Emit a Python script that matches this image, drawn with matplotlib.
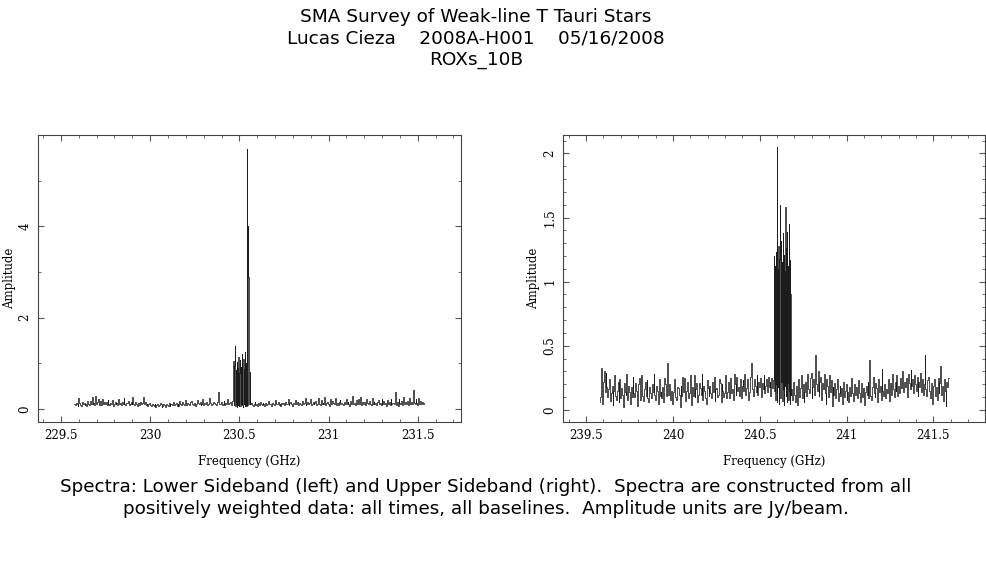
import numpy as np
import matplotlib
matplotlib.use("Agg")
import matplotlib.pyplot as plt
from matplotlib.ticker import MultipleLocator

# ---------------- data (amplitudes in units of 0.01 Jy/beam) ----------------
# Lower sideband
lsb_freq_edges = [229.573, 230.466, 230.560, 231.538]   # GHz: start, line start, line end, stop
lsb_pre = [11,8,14,10,7,24,13,9,6,15, 10,13,8,12,7,17,11,9,18,12,
           26,10,14,9,28,12,15,21,9,17, 13,8,22,11,16,10,15,8,19,12,
           9,14,11,20,7,12,16,10,14,8, 21,11,13,9,16,12,24,10,8,14,
           13,18,9,11,15,10,27,12,9,15, 11,7,14,12,9,16,10,13,27,11,
           15,9,12,7,10,13,8,6,11,9, 7,12,5,9,11,6,8,13,10,5,
           7,12,9,4,11,8,6,14,7,10, 12,9,16,8,11,13,7,10,6,18,
           11,9,15,12,8,10,20,9,13,11, 8,15,17,10,12,9,14,7,11,19,
           13,10,16,8,12,21,9,14,11,15, 8,12,10,24,13,9,11,15,14,10,
           12,9,16,37,11,10,15,8,12,18, 9,14,11,22,10,13,16,9,12,17]
lsb_line = [105,8,95,12,138,6,85,10,102,5, 90,9,115,7,80,11,108,6,92,12,
            120,8,98,5,110,10,88,7,125,9, 100,6,570,8,10,400,290,115,10,82]
lsb_post = [10,14,8,6,12,15,9,11,7,13, 9,16,10,8,14,11,7,13,9,12,
            17,10,12,6,9,14,11,8,19,10, 12,15,9,11,7,14,10,13,8,16,
            12,10,22,9,13,16,11,7,14,12, 20,10,13,15,9,14,12,8,18,11,
            13,24,9,12,15,11,14,21,8,12, 16,10,13,17,9,12,25,11,8,19,
            12,14,10,27,9,13,16,11,7,22, 12,10,18,14,11,24,9,13,8,15,
            20,11,14,12,9,15,10,23,12,16, 11,7,17,12,28,10,14,9,19,13,
            10,21,12,26,9,15,11,16,13,8, 21,14,10,18,12,9,25,11,15,10,
            13,8,16,20,11,14,9,23,12,18, 10,14,7,19,12,16,9,22,11,14,
            13,10,37,8,15,6,22,13,11,17, 9,26,12,15,10,18,13,9,24,12,
            16,11,42,13,10,21,14,8,24,12, 17,11,15,10,14]

# Upper sideband
usb_freq_edges = [239.577, 240.582, 240.682, 241.590]
usb_pre = [6,10,33,5,22,30,14,29,18,10, 16,24,7,13,19,4,15,27,11,8,
           15,22,6,24,9,17,12,2,21,14, 12,28,8,19,14,5,18,10,26,13,
           10,21,15,3,20,25,13,8,27,11, 7,16,22,11,23,9,6,18,13,9,
           20,14,28,12,8,19,15,5,24,11, 14,9,18,6,25,20,11,16,37,12,
           20,8,15,5,14,22,24,10,8,18, 17,12,2,19,11,26,14,25,7,15,
           22,16,9,13,27,4,18,11,27,10, 16,21,6,12,21,17,12,28,8,19,
           15,9,5,23,17,11,19,13,9,22, 14,26,7,16,17,10,12,24,21,6,
           20,15,10,13,27,9,14,22,18,9, 25,13,16,8,28,20,12,26,15,18,
           11,24,9,19,23,15,28,12,17,24, 8,14,21,26,37,16,11,24,19,14,
           27,12,22,18,25,10,21,16,27,13, 19,24,14,26,18,22,11,25,17,23]
usb_line = [120,15,112,8,123,20,205,6,110,18, 128,5,118,14,160,9,132,22,115,7,
            138,16,121,4,108,19,158,11,126,6, 139,21,112,8,145,15,117,5,90,12]
usb_post = [16,8,22,12,6,19,14,4,24,10, 17,27,9,20,6,14,22,11,28,16,
            13,25,29,9,18,24,12,43,20,15, 30,11,22,26,8,21,16,28,13,5,
            24,19,10,27,14,23,3,18,12,21, 9,16,24,7,13,19,11,17,5,22,
            10,15,20,8,14,6,18,11,25,13, 7,16,20,12,18,9,23,13,6,15,
            21,10,17,4,14,19,12,22,9,39, 11,8,18,26,13,10,21,17,6,24,
            14,19,8,32,15,11,20,9,16,13, 24,18,7,21,12,28,16,10,22,15,
            27,11,19,13,25,17,30,14,20,22, 18,25,10,28,21,16,31,19,24,13,
            27,20,15,26,11,22,18,29,14,24, 12,20,43,16,11,23,26,15,9,21,
            14,5,19,24,11,18,8,25,13,21, 34,12,19,7,24,15,3,22,18,25]

title_lines = ["SMA Survey of Weak-line T Tauri Stars",
               "Lucas Cieza    2008A-H001    05/16/2008",
               "ROXs_10B"]
caption_lines = ["Spectra: Lower Sideband (left) and Upper Sideband (right).  Spectra are constructed from all",
                 "positively weighted data: all times, all baselines.  Amplitude units are Jy/beam."]


def build(edges, pre, line, post):
    segs = [(edges[0], edges[1], pre), (edges[1], edges[2], line), (edges[2], edges[3], post)]
    xs, ys = [], []
    for a, b, v in segs:
        n = len(v)
        xs.append(a + (np.arange(n) + 0.5) * (b - a) / n)
        ys.append(np.asarray(v, float) / 100.0)
    return np.concatenate(xs), np.concatenate(ys)


fig = plt.figure(figsize=(9.87, 5.67), dpi=100)
serif = "DejaVu Serif"

panels = [
    dict(pos=[0.0388, 0.2552, 0.4280, 0.5067], data=build(lsb_freq_edges, lsb_pre, lsb_line, lsb_post),
         xlim=(229.373, 231.741), ylim=(-0.29, 6.0), xmin=0.1, ymin=1,
         xticks=[229.5, 230, 230.5, 231, 231.5], xlabels=["229.5", "230", "230.5", "231", "231.5"],
         yticks=[0, 2, 4], ylabels=["0", "2", "4"]),
    dict(pos=[0.5707, 0.2552, 0.4273, 0.5067], data=build(usb_freq_edges, usb_pre, usb_line, usb_post),
         xlim=(239.369, 241.797), ylim=(-0.096, 2.143), xmin=0.1, ymin=0.1,
         xticks=[239.5, 240, 240.5, 241, 241.5], xlabels=["239.5", "240", "240.5", "241", "241.5"],
         yticks=[0, 0.5, 1, 1.5, 2], ylabels=["0", "0.5", "1", "1.5", "2"]),
]

for p in panels:
    ax = fig.add_axes(p["pos"])
    x, y = p["data"]
    ax.plot(x, y, color="#1c1c1c", lw=0.55, drawstyle="steps-mid")
    ax.set_xlim(*p["xlim"])
    ax.set_ylim(*p["ylim"])
    ax.set_xticks(p["xticks"])
    ax.set_xticklabels(p["xlabels"], fontfamily=serif, fontsize=8.5)
    ax.set_yticks(p["yticks"])
    ax.set_yticklabels(p["ylabels"], fontfamily=serif, fontsize=8.5, rotation=90, va="center")
    ax.xaxis.set_minor_locator(MultipleLocator(p["xmin"]))
    ax.yaxis.set_minor_locator(MultipleLocator(p["ymin"]))
    ax.tick_params(which="both", direction="in", top=True, right=True, color="#555555")
    ax.tick_params(which="major", length=4.5, width=0.8, pad=5)
    ax.tick_params(which="minor", length=2.2, width=0.6)
    for s in ax.spines.values():
        s.set_color("#444444")
        s.set_linewidth(0.8)
    ax.set_xlabel("Frequency (GHz)", fontfamily=serif, fontsize=8.5, labelpad=9)
    ax.set_ylabel("Amplitude", fontfamily=serif, fontsize=8.5, labelpad=2)

for i, t in enumerate(title_lines):
    fig.text(0.4823, 1 - (17 + 21.5 * i) / 567, t, ha="center", va="center",
             fontfamily="DejaVu Sans", fontsize=13.3)

for i, t in enumerate(caption_lines):
    fig.text(0.4925, 1 - (487 + 22 * i) / 567, t, ha="center", va="center",
             fontfamily="DejaVu Sans", fontsize=13.2)

fig.savefig("out.png", dpi=100)
